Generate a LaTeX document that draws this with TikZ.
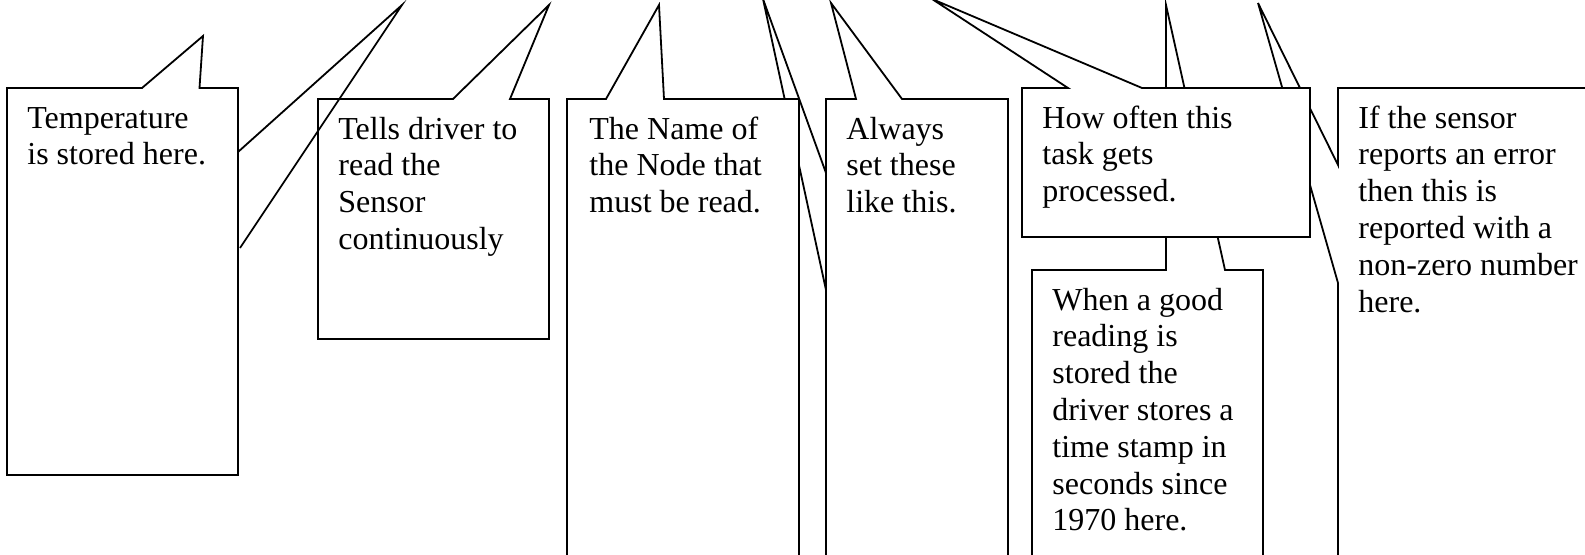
\documentclass[tikz,border=0pt]{standalone}
\usepackage{fontspec}
\setmainfont{Liberation Serif}

\begin{document}
\begin{tikzpicture}[x=0.5pt,y=-0.5pt,
    callout/.style={draw,fill=white,line width=0.9pt},
    wedge/.style={draw,line width=0.9pt},
    note text/.style={anchor=north west,inner sep=0pt,align=left,font=\fontsize{16}{18.4}\selectfont}]
  \useasboundingbox (0,0) rectangle (1585,555);
  \clip (0,0) rectangle (1585,555);
  % tips of the pointers
  \coordinate (tipA) at (203,36);
  \coordinate (tipAA) at (402,5);
  \coordinate (tipB) at (549,5);
  \coordinate (tipC) at (659,5);
  \coordinate (tipDD) at (763,-1);
  \coordinate (tipD) at (831,3);
  \coordinate (tipE) at (932,-1);
  \coordinate (tipF) at (1166,5);
  \coordinate (tipG) at (1258,3);
  % second pointer under the name box
  \path[wedge] (826,173) -- (tipDD) -- (826,290);
  % name box
  \path[callout] (567,99) -- (606,99) -- (tipC) -- (664,99) -- (799,99) -- (799,570) -- (567,570) -- cycle;
  \node[note text] (name) at (589,113) {\strut The Name of\\the Node that\\must be read.};
  % always box
  \path[callout] (826,99) -- (856,99) -- (tipD) -- (902,99) -- (1008,99) -- (1008,570) -- (826,570) -- cycle;
  \node[note text] (always) at (846,113) {\strut Always\\set these\\like this.};
  % time stamp box
  \path[callout] (1032,270) -- (1166,270) -- (tipF) -- (1225,270) -- (1263,270) -- (1263,570) -- (1032,570) -- cycle;
  \node[note text] (stamp) at (1052,284) {\strut When a good\\reading is\\stored the\\driver stores a\\time stamp in\\seconds since\\1970 here.};
  % error box
  \path[callout] (1338,88) -- (1600,88) -- (1600,570) -- (1338,570) -- (1338,283) -- (tipG) -- (1338,165) -- cycle;
  \node[note text] (error) at (1358,102) {\strut If the sensor\\reports an error\\then this is\\reported with a\\non-zero number\\here.};
  % how often box
  \path[callout] (1022,88) -- (1068,88) -- (tipE) -- (1142,88) -- (1310,88) -- (1310,237) -- (1022,237) -- cycle;
  \node[note text] (often) at (1042,102) {\strut How often this\\task gets\\processed.};
  % temperature box
  \path[callout] (7,88) -- (142,88) -- (tipA) -- (199.5,88) -- (238,88) -- (238,475) -- (7,475) -- cycle;
  \node[note text] (temp) at (27,102) {\strut Temperature\\is stored here.};
  % read box
  \path[callout] (318,99) -- (453,99) -- (tipB) -- (510,99) -- (549,99) -- (549,339) -- (318,339) -- cycle;
  \node[note text] (read) at (338,113) {\strut Tells driver to\\read the\\Sensor\\continuously};
  % second pointer of the temperature box
  \path[wedge] (238,152) -- (tipAA) -- (240,248);
\end{tikzpicture}
\end{document}
